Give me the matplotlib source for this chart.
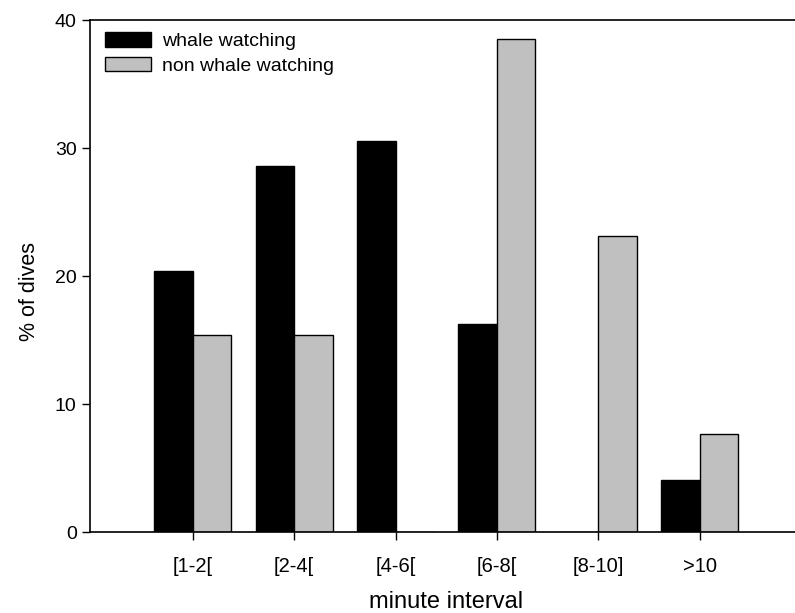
import numpy as np
import matplotlib
matplotlib.use('Agg')
import matplotlib.pyplot as plt

categories = ['[1-2[', '[2-4[', '[4-6[', '[6-8[', '[8-10]', '>10']
whale = [20.4, 28.6, 30.6, 16.3, 0.0, 4.1]
non_whale = [15.4, 15.4, 0.0, 38.5, 23.1, 7.7]

plt.rcParams['font.family'] = ['Liberation Sans', 'DejaVu Sans']

fig = plt.figure(figsize=(7.95, 6.13), dpi=100)
ax = fig.add_axes([0.113, 0.132, 0.887, 0.835])

x = np.arange(len(categories))
w = 0.38
ax.bar(x - w/2, whale, w, color='black', edgecolor='black', linewidth=1,
       label='whale watching')
ax.bar(x + w/2, non_whale, w, color='#c0c0c0', edgecolor='black', linewidth=1,
       label='non whale watching')

ax.set_xlim(-1.016, 5.94)
ax.set_ylim(0, 40)
ax.set_yticks([0, 10, 20, 30, 40])
ax.set_xticks(x)
ax.set_xticklabels(categories, fontsize=14.5)
ax.tick_params(axis='y', labelsize=14, direction='out', length=6, width=1)
ax.tick_params(axis='x', direction='out', length=6, width=1, pad=12)
ax.spines['right'].set_visible(False)
for s in ['left', 'top', 'bottom']:
    ax.spines[s].set_linewidth(1.2)

ax.set_xlabel('minute interval', fontsize=17)
ax.xaxis.set_label_coords(0.505, -0.115)
ax.set_ylabel('% of dives', fontsize=15.5)
ax.yaxis.set_label_coords(-0.07, 0.47)

ax.legend(loc='upper left', frameon=False, fontsize=14, handlelength=2.35,
          handleheight=0.8, handletextpad=0.55, labelspacing=0.32,
          borderaxespad=0.0, bbox_to_anchor=(0.011, 0.992))

fig.savefig('out.png', dpi=100)
